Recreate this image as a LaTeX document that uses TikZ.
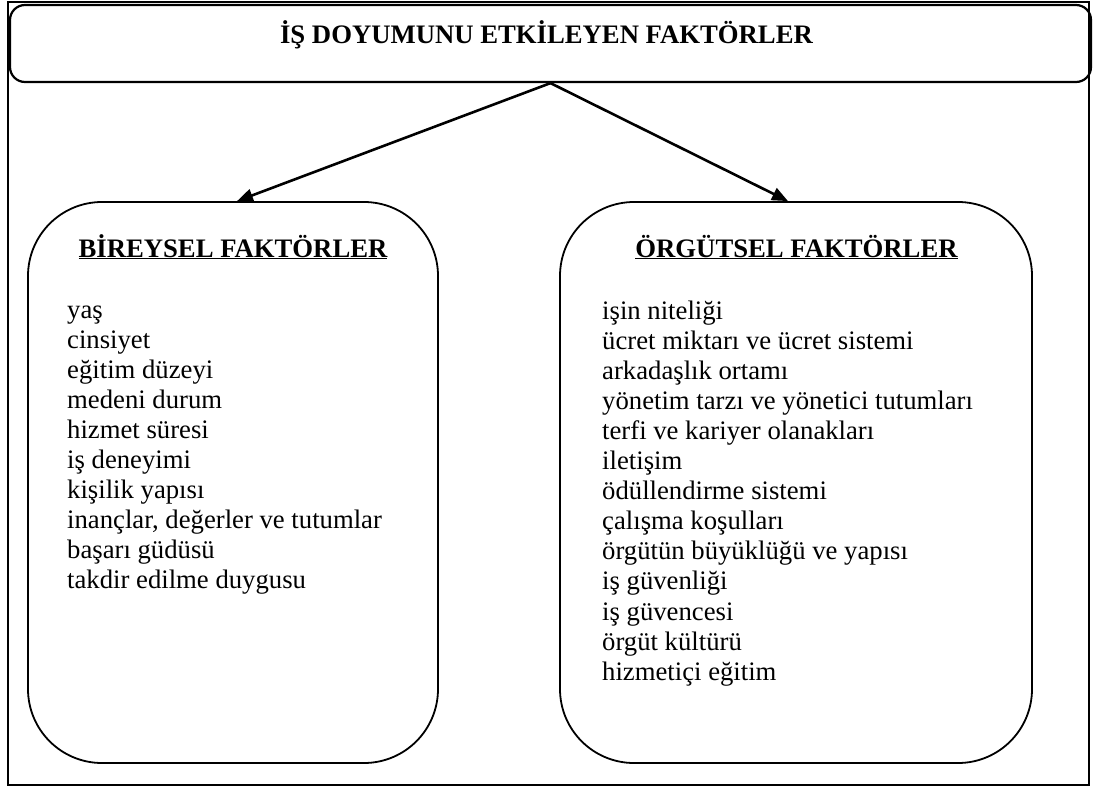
\documentclass[tikz,border=0pt]{standalone}
\usepackage{fontspec}
\setmainfont{Liberation Serif}
\usetikzlibrary{arrows.meta}
\begin{document}
\begin{tikzpicture}[x=1pt,y=-1pt,
  frame/.style={draw, line width=2pt},
  titlebox/.style={draw, line width=2.2pt, rounded corners=15pt,
    minimum width=1081pt, minimum height=77pt, inner sep=0pt},
  groupbox/.style={draw, line width=1.8pt, rounded corners=74pt,
    minimum height=561pt, inner sep=0pt},
  titletext/.style={font=\fontsize{26.7}{30}\selectfont\bfseries,
    anchor=base, inner sep=0pt},
  heading/.style={font=\fontsize{26.7}{30}\selectfont\bfseries,
    anchor=base, inner sep=0pt},
  item/.style={font=\fontsize{26.7}{30}\selectfont,
    anchor=base west, inner sep=0pt},
  link/.style={line width=2.6pt, -{Triangle[length=16pt,width=13pt]}}]

\useasboundingbox (0,0) rectangle (1094,787);

% outer frame
\draw[frame] (8,2) rectangle (1089,785);

% title
\node[titlebox] (head) at (550.5,43.5) {};
\node[titletext] (headtext) at (546.5,43) {İŞ DOYUMUNU ETKİLEYEN FAKTÖRLER};

% the two groups of factors
\node[groupbox, minimum width=410pt] (indiv) at (233,482.5) {};
\node[groupbox, minimum width=472pt] (org) at (796,482.5) {};

\node[heading] (indivhead) at (233,257) {\underline{BİREYSEL FAKTÖRLER}};
\node[heading] (orghead) at (796.5,257) {\underline{ÖRGÜTSEL FAKTÖRLER}};

\foreach \t [count=\i from 0] in {yaş, cinsiyet, eğitim düzeyi, medeni durum,
    hizmet süresi, iş deneyimi, kişilik yapısı,
    {inançlar, değerler ve tutumlar}, başarı güdüsü, takdir edilme duygusu}
  \node[item] (ind\i) at (67,{318+30*\i}) {\t};

\foreach \t [count=\i from 0] in {işin niteliği, ücret miktarı ve ücret sistemi,
    arkadaşlık ortamı, yönetim tarzı ve yönetici tutumları,
    terfi ve kariyer olanakları, iletişim, ödüllendirme sistemi,
    çalışma koşulları, örgütün büyüklüğü ve yapısı, iş güvenliği,
    iş güvencesi, örgüt kültürü, hizmetiçi eğitim}
  \node[item] (org\i) at (602,{319+30.1*\i}) {\t};

% connectors
\draw[link] (head.south) -- ([xshift=4pt]indiv.north);
\draw[link] (head.south) -- ([xshift=-8pt]org.north);
\end{tikzpicture}
\end{document}
